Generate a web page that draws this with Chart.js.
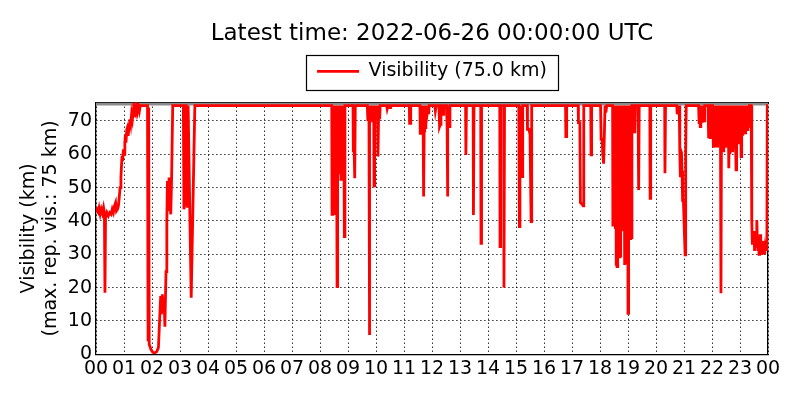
<!DOCTYPE html>
<html><head><meta charset="utf-8">
<script src="https://cdn.jsdelivr.net/npm/chart.js@4.4.0/dist/chart.umd.min.js"></script>
<style>html,body{margin:0;padding:0;background:#fff}#wrap{width:800px;height:400px}</style>
</head><body><div id="wrap"><canvas id="c" width="800" height="400"></canvas></div>
<script>
const chartTitle = 'Latest time: 2022-06-26 00:00:00 UTC';
const seriesLabel = 'Visibility (75.0 km)';
const yAxisTitle = ['Visibility (km)', '(max. rep. vis.: 75 km)'];
const hourTickLabels = ['00','01','02','03','04','05','06','07','08','09','10','11','12','13','14','15','16','17','18','19','20','21','22','23','00'];
const yTickValues = [0, 10, 20, 30, 40, 50, 60, 70];
const maxRepVisLine = [[0, 75.1], [24, 75.1]];
// [hour of day, visibility km]
const visibilityObs = [
[0.00,44.3],[0.04,43],[0.08,42.5],[0.11,43.8],[0.15,42],[0.19,43.5],[0.23,42.3],[0.27,44],[0.30,42.5],[0.32,18.5],[0.34,41],[0.39,42.5],[0.44,41.5],[0.49,42.5],[0.54,42],[0.58,43.5],[0.62,42.5],[0.66,44.5],[0.70,45.5],[0.73,43],[0.77,43.5],[0.80,44.5],
[0.83,47],[0.86,50],[0.89,53],[0.91,56.5],[0.93,59.5],[0.95,58],[0.98,61.5],[1.00,60],[1.03,63.5],[1.05,66],[1.07,63.5],[1.10,67.5],[1.12,68],[1.15,65.5],[1.18,68.5],[1.21,70.5],[1.24,69],[1.27,72],[1.30,70.5],[1.33,73],[1.36,71.5],[1.39,73.5],[1.42,72.5],[1.45,74.6],[1.48,73],[1.51,74.6],[1.55,73],[1.58,74.6],[1.84,74.6],
[1.86,4.3],[1.875,4.5],[1.885,74],[1.90,3],[1.96,1.5],[2.03,0.6],[2.10,0.4],[2.17,0.8],[2.23,2],[2.27,10],[2.31,17.5],[2.34,12],[2.37,18],[2.40,13],[2.43,17],[2.46,8.3],[2.50,24.8],[2.53,40],[2.55,52],[2.58,43],[2.61,53],[2.64,45],[2.67,42],[2.70,52.8],[2.74,74.6],
[3.10,74.6],[3.12,74.6],[3.14,43.5],[3.17,45],[3.19,74.6],[3.22,74.6],[3.24,46.5],[3.27,44],[3.29,74.6],[3.31,74.6],[3.40,17],[3.53,74.6],
[8.42,74.6],[8.43,42],[8.45,74.6],[8.46,55],[8.48,42],[8.50,74.6],[8.52,55],[8.53,41.8],[8.55,74.6],[8.57,55],[8.59,74.6],[8.61,20.3],[8.63,55],[8.65,74.6],[8.67,54],[8.69,74.6],[8.71,55],[8.73,74.6],[8.75,52.5],[8.77,74.6],[8.79,55],[8.81,74.6],[8.83,54],[8.85,74.6],[8.87,35.3],[8.89,74.6],[8.92,74.6],
[9.18,74.6],[9.19,61],[9.22,61],[9.24,52.8],[9.26,74.6],
[9.69,74.6],[9.71,70],[9.73,74.6],[9.75,70],[9.76,5.8],[9.78,70],[9.80,74.6],[9.82,70.5],[9.84,74.6],[9.86,70],[9.88,74.6],[9.90,70.8],[9.92,72],[9.93,50.5],[9.95,70.5],[9.97,74.6],[9.99,70],[10.01,74.6],[10.03,70],[10.05,74.6],[10.07,59.3],[10.09,70.5],[10.11,74.6],[10.13,70.5],[10.15,74.6],
[10.38,74.6],[10.40,73.6],[10.43,74.6],[10.48,74.6],[10.50,74],[10.52,74.6],
[11.19,74.6],[11.20,69.3],[11.23,69.3],[11.24,74.6],
[11.57,74.6],[11.58,66.3],[11.60,74.6],[11.62,66.5],[11.64,74.6],[11.66,66],[11.68,74.6],[11.70,47.3],[11.72,67],[11.74,74.6],[11.76,68],[11.78,72.5],[11.80,74.6],[11.83,72.5],[11.86,74.6],[11.88,72],[11.90,74.6],
[12.10,74.6],[12.12,73],[12.15,74.6],[12.25,74.6],[12.27,68.3],[12.30,69],[12.32,74.6],[12.38,74.6],[12.40,72],[12.42,74.6],[12.52,74.6],[12.54,68.3],[12.55,47.3],[12.57,68.3],[12.60,74.6],[12.62,68.3],[12.64,74.6],
[13.20,74.6],[13.21,59.8],[13.23,74.6],[13.47,74.6],[13.48,41.8],[13.50,74.6],[13.74,74.6],[13.75,33.3],[13.77,74.6],
[14.42,74.6],[14.43,32.3],[14.45,74.6],[14.56,74.6],[14.57,20],[14.59,74.6],
[15.10,74.6],[15.12,38.3],[15.14,74.6],[15.17,55],[15.20,74.6],[15.22,53.3],[15.24,74.6],
[15.40,74.6],[15.41,67.5],[15.46,67.5],[15.50,66],[15.54,39.8],[15.56,74.6],
[16.77,74.6],[16.78,65.3],[16.80,65.3],[16.81,74.6],
[17.22,74.6],[17.23,69.5],[17.28,69.5],[17.30,45.5],[17.36,45],[17.40,44.5],[17.42,74.6],
[17.67,74.6],[17.68,59.8],[17.70,74.6],
[18.02,74.6],[18.04,64.5],[18.08,64.5],[18.10,60],[18.13,57.2],[18.15,64],[18.18,74.6],[18.21,72.5],[18.24,74.6],
[18.45,74.6],[18.46,38.3],[18.475,74.6],[18.49,38.3],[18.505,74.6],[18.52,39],[18.535,74.6],[18.55,38],[18.565,74.6],[18.58,27],[18.595,74.6],[18.61,26.3],[18.625,74.6],[18.64,38],[18.655,74.6],[18.67,37],[18.685,74.6],[18.70,28.8],[18.715,74.6],[18.73,29],[18.745,74.6],[18.76,38],[18.775,74.6],[18.79,37.3],[18.805,74.6],[18.82,37.3],[18.835,74.6],[18.85,38],[18.865,74.6],[18.88,26.8],[18.895,74.6],[18.91,27],[18.925,74.6],[18.94,38],[18.955,74.6],[18.97,37],[18.985,74.6],[19.00,12.3],[19.015,74.6],[19.03,37],[19.045,74.6],[19.06,34.3],[19.075,74.6],[19.09,34.3],[19.105,74.6],[19.12,35],[19.14,74.6],
[19.22,74.6],[19.24,66.3],[19.26,74.6],[19.36,74.6],[19.38,49.3],[19.40,74.6],
[19.78,74.6],[19.79,46.8],[19.81,74.6],
[20.31,74.6],[20.32,54.3],[20.34,74.6],
[20.74,74.6],[20.76,72],[20.79,74.6],[20.80,72],[20.83,74.6],[20.85,61],[20.87,53.5],[20.89,61],[20.91,60.5],[20.93,55],[20.95,46],[20.98,45.8],[21.02,35],[21.04,29.8],[21.06,61],[21.08,74.6],
[21.52,74.6],[21.54,69.5],[21.56,74.6],[21.58,68.3],[21.60,69],[21.62,74.6],[21.66,69.5],[21.68,74.6],[21.72,70],[21.74,74.6],[21.86,74.6],[21.88,64.8],[21.90,74.6],[21.93,65],[21.95,74.6],[22.02,74.6],[22.05,62],[22.08,74.6],[22.10,62],[22.12,74.6],
[22.14,74.6],[22.16,66],[22.18,74.6],[22.20,62],[22.22,70],[22.24,64],[22.26,74.6],[22.28,63],[22.30,74.6],[22.32,18.3],[22.34,74.6],[22.36,64],[22.38,70],[22.40,61],[22.42,74.6],[22.44,66],[22.46,74.6],[22.48,62],[22.50,70],[22.52,65],[22.54,74.6],[22.56,62],[22.58,74.6],[22.60,55.8],[22.62,74.6],[22.64,60],[22.66,68],[22.68,63],[22.70,74.6],[22.72,61],[22.74,72],[22.76,66],[22.78,74.6],[22.80,62],[22.82,74.6],[22.84,64],[22.86,55.3],[22.88,74.6],[22.90,66],[22.92,74.6],[22.94,68],[22.96,63],[22.98,74.6],[23.00,67],[23.02,74.6],[23.04,59.3],[23.06,74.6],[23.08,66],[23.10,74.6],[23.12,68],[23.14,74.6],[23.16,69],[23.18,74.6],[23.20,66],[23.22,74.6],[23.24,70],[23.26,74.6],[23.28,67],[23.30,74.6],[23.32,68],[23.34,74.6],[23.40,74.6],
[23.42,40],[23.44,33.3],[23.46,36],[23.48,33],[23.50,37],[23.52,31],[23.54,35],[23.56,32],[23.58,36],[23.60,40.3],[23.62,34],[23.64,31],[23.66,35],[23.68,30],[23.70,33],[23.72,36],[23.74,31],[23.76,33],[23.78,29.8],[23.80,34],[23.82,32],[23.84,30.5],[23.86,33],[23.88,30],[23.90,32],[23.92,31],[23.94,33],[23.96,31],[23.975,74.6],[24.0,74.6]
];

Chart.defaults.font.family = "'DejaVu Sans', sans-serif";
Chart.defaults.color = '#000';

const legendFrame = {
  id: 'legendFrame',
  afterDraw(chart) {
    const L = chart.legend; if (!L) return;
    const ctx = chart.ctx;
    const cx = (L.left + L.right) / 2;
    ctx.save();
    ctx.strokeStyle = '#000';
    ctx.lineWidth = 1.2;
    ctx.strokeRect(Math.round(cx - 126) + 0.5, Math.round(L.top + 3) + 0.5, 252, 35);
    ctx.restore();
  }
};

const gridDash = [1.2, 2.8];

new Chart(document.getElementById('c'), {
  type: 'line',
  data: {
    datasets: [
      {
        label: seriesLabel,
        data: visibilityObs.map(p => ({x: p[0], y: p[1]})),
        borderColor: '#ff0000',
        backgroundColor: '#ff0000',
        borderWidth: 2.8,
        pointRadius: 0,
        pointStyle: 'line',
        tension: 0,
        order: 0
      },
      {
        label: 'maxrep',
        data: maxRepVisLine.map(p => ({x: p[0], y: p[1]})),
        borderColor: '#8c8c8c',
        borderWidth: 3,
        pointRadius: 0,
        tension: 0,
        order: 1
      }
    ]
  },
  options: {
    responsive: false,
    animation: false,
    layout: { padding: { left: 64, right: 0, top: 0, bottom: 0 } },
    plugins: {
      title: {
        display: true, text: chartTitle,
        font: { size: 23, weight: 'normal', lineHeight: 1.2 },
        color: '#000',
        padding: { top: 20.7, bottom: 3.6 }
      },
      legend: {
        display: true,
        labels: {
          usePointStyle: true, pointStyleWidth: 42,
          font: { size: 19 }, color: '#000', padding: 10,
          filter: item => item.datasetIndex === 0
        }
      },
      tooltip: { enabled: false }
    },
    scales: {
      x: {
        type: 'linear', min: 0, max: 24, position: 'bottom',
        ticks: { stepSize: 1, autoSkip: false, maxRotation: 0, padding: 3, font: { size: 19 },
          callback: v => hourTickLabels[Math.round(v)] },
        grid: { color: '#000', lineWidth: 1, drawTicks: false },
        border: { display: true, color: '#000', width: 1.3, dash: gridDash },
        afterFit: s => { s.height = 45.7; }
      },
      y: {
        type: 'linear', min: 0, max: 75.5, position: 'left',
        afterBuildTicks: s => { s.ticks = yTickValues.map(v => ({value: v})); },
        ticks: { padding: 4, font: { size: 19 } },
        grid: { color: '#000', lineWidth: 1, drawTicks: false },
        border: { display: true, color: '#000', width: 1.3, dash: gridDash },
        title: { display: true, text: yAxisTitle, font: { size: 19, lineHeight: 1.12 }, color: '#000', padding: { top: -45.1, bottom: 0 } },
        afterFit: s => { s.width = 32; }
      },
      x2: {
        type: 'linear', position: 'top', display: true,
        ticks: { display: false },
        grid: { display: false, drawTicks: false },
        border: { display: true, color: '#000', width: 1.3 },
        afterFit: s => { s.height = 11.7; }
      },
      y2: {
        type: 'linear', position: 'right', display: true,
        ticks: { display: false },
        grid: { display: false, drawTicks: false },
        border: { display: true, color: '#000', width: 1.3 },
        afterFit: s => { s.width = 32; }
      }
    }
  },
  plugins: [legendFrame]
});
</script>
</body></html>
